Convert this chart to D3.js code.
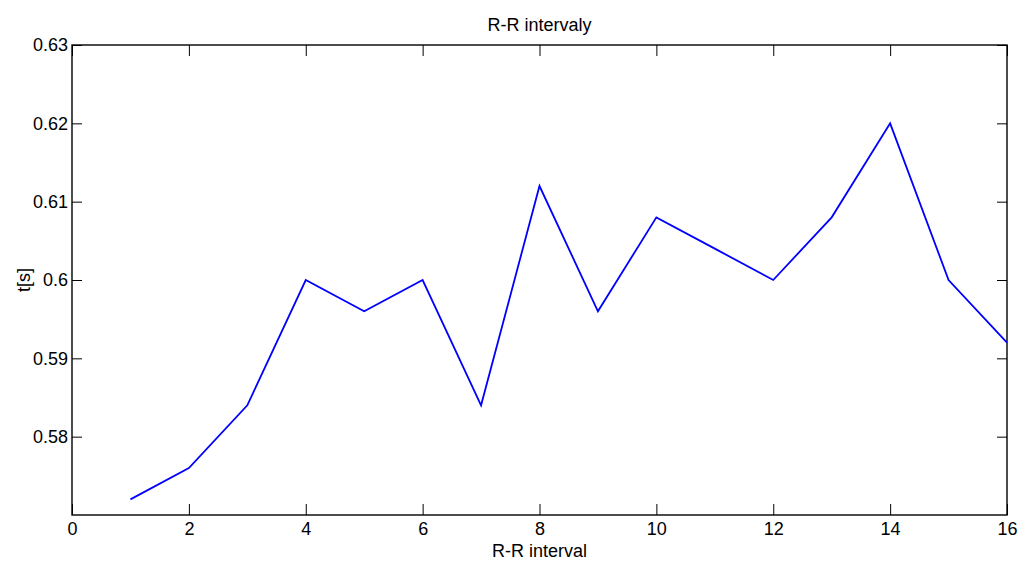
<!DOCTYPE html>
<html>
<head>
<meta charset="utf-8">
<script src="https://cdn.jsdelivr.net/npm/d3@7"></script>
<style>
  body { margin: 0; background: #fff; }
  text { font-family: "Liberation Sans", Arial, sans-serif; fill: #000; }
</style>
</head>
<body>
<svg width="1020" height="562"></svg>
<script>
"use strict";

// data
const intervals = [1, 2, 3, 4, 5, 6, 7, 8, 9, 10, 11, 12, 13, 14, 15, 16];
const times = [0.572, 0.576, 0.584, 0.600, 0.596, 0.600, 0.584, 0.612, 0.596, 0.608, 0.604, 0.600, 0.608, 0.620, 0.600, 0.592];
const xTicks = [0, 2, 4, 6, 8, 10, 12, 14, 16];
const yTicks = [0.58, 0.59, 0.60, 0.61, 0.62, 0.63];

const svg = d3.select('svg');
const plotLeft = 72, plotRight = 1007, plotTop = 45, plotBottom = 515;
const tickLen = 11;

const x = d3.scaleLinear().domain([0, 16]).range([plotLeft, plotRight]);
const y = d3.scaleLinear().domain([0.57, 0.63]).range([plotBottom, plotTop]);

const fmtY = d => d3.format('.2f')(d).replace(/0$/, '');

// bottom axis (labels) + top axis (ticks only), ticks pointing inward
svg.append('g')
    .attr('transform', `translate(0, ${plotBottom})`)
    .call(d3.axisBottom(x).tickValues(xTicks).tickSizeInner(-tickLen).tickSizeOuter(0).tickPadding(8).tickFormat(d3.format('d')))
    .call(g => g.select('.domain').remove())
    .call(g => g.selectAll('text').attr('font-size', 18).attr('y', 7).attr('dy', '0.71em'));

svg.append('g')
    .attr('transform', `translate(0, ${plotTop})`)
    .call(d3.axisTop(x).tickValues(xTicks).tickSizeInner(-tickLen).tickSizeOuter(0).tickFormat(''))
    .call(g => g.select('.domain').remove());

svg.append('g')
    .attr('transform', `translate(${plotLeft}, 0)`)
    .call(d3.axisLeft(y).tickValues(yTicks).tickSizeInner(-10).tickSizeOuter(0).tickFormat(fmtY))
    .call(g => g.select('.domain').remove())
    .call(g => g.selectAll('text').attr('font-size', 18).attr('x', -4));

svg.append('g')
    .attr('transform', `translate(${plotRight}, 0)`)
    .call(d3.axisRight(y).tickValues(yTicks).tickSizeInner(-10).tickSizeOuter(0).tickFormat(''))
    .call(g => g.select('.domain').remove());

svg.selectAll('.tick line').attr('stroke', '#000').attr('stroke-width', 1);

// box
svg.append('rect')
    .attr('x', plotLeft)
    .attr('y', plotTop)
    .attr('width', plotRight - plotLeft)
    .attr('height', plotBottom - plotTop)
    .attr('fill', 'none')
    .attr('stroke', '#000')
    .attr('stroke-width', 1.4);

const line = d3.line()
    .x((d, i) => x(intervals[i]))
    .y(d => y(d));

svg.append('path')
    .datum(times)
    .attr('d', line)
    .attr('fill', 'none')
    .attr('stroke', '#0000ff')
    .attr('stroke-width', 1.8);

svg.append('text')
    .attr('x', (plotLeft + plotRight) / 2)
    .attr('y', 31)
    .attr('text-anchor', 'middle')
    .attr('font-size', 18)
    .text('R-R intervaly');

svg.append('text')
    .attr('x', (plotLeft + plotRight) / 2)
    .attr('y', 557)
    .attr('text-anchor', 'middle')
    .attr('font-size', 18)
    .text('R-R interval');

svg.append('text')
    .attr('transform', `translate(30, ${(plotTop + plotBottom) / 2}) rotate(-90)`)
    .attr('text-anchor', 'middle')
    .attr('font-size', 18)
    .text('t[s]');
</script>
</body>
</html>
